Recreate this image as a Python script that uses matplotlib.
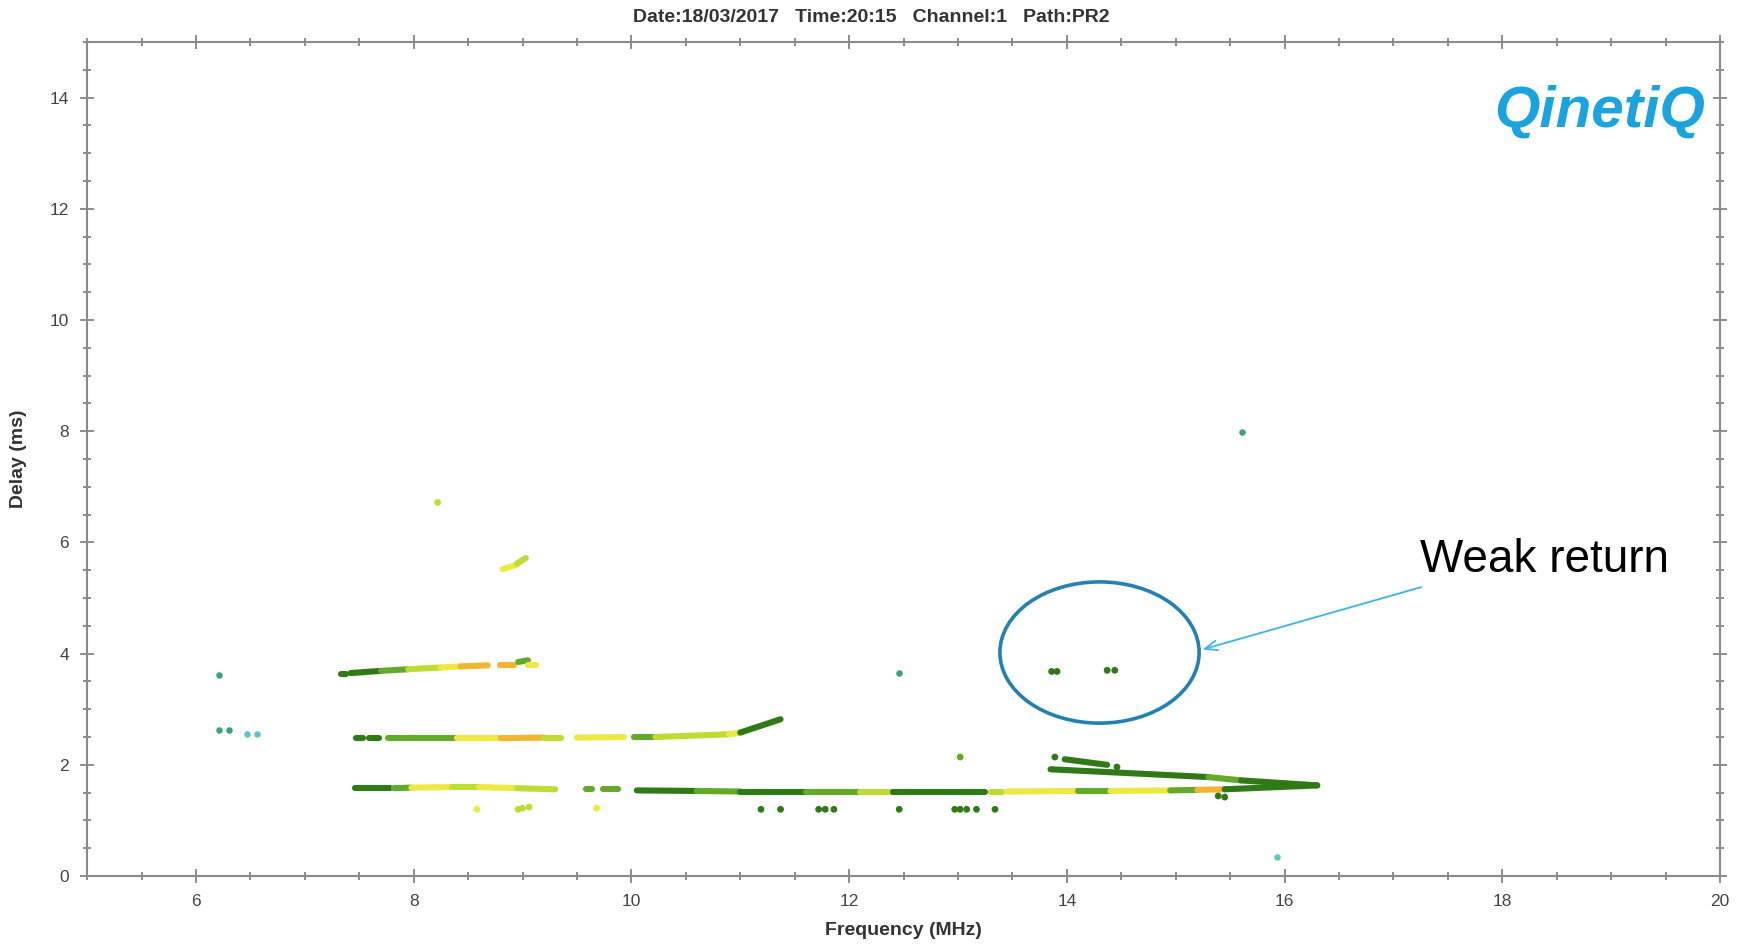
import numpy as np
import matplotlib
matplotlib.use("Agg")
import matplotlib.pyplot as plt
from matplotlib.collections import LineCollection
from matplotlib.patches import Ellipse
from matplotlib.ticker import MultipleLocator

plt.rcParams['font.family'] = ['Liberation Sans', 'DejaVu Sans']

# signal level -> colour (0 weak ... 4 strong)
LEVEL_COLORS = ['#2F7A16', '#63AA2A', '#BEDC34', '#EEE845', '#F1B532']

# ionogram traces as runs: (f_start, f_end, delay_start, delay_end, level)
trace_f2 = [
    (7.33, 7.38, 3.64, 3.64, 0),
    (7.42, 7.70, 3.65, 3.69, 0),
    (7.70, 7.95, 3.69, 3.72, 1),
    (7.95, 8.25, 3.72, 3.75, 2),
    (8.25, 8.43, 3.75, 3.77, 3),
    (8.43, 8.68, 3.77, 3.79, 4),
    (8.79, 8.92, 3.80, 3.80, 4),
    (8.96, 9.05, 3.85, 3.88, 1),
    (9.05, 9.12, 3.80, 3.80, 3),
]
trace_f1 = [
    (7.47, 7.53, 2.48, 2.48, 0),
    (7.59, 7.68, 2.48, 2.48, 0),
    (7.76, 8.00, 2.48, 2.48, 1),
    (8.00, 8.40, 2.48, 2.48, 1),
    (8.40, 8.80, 2.48, 2.48, 3),
    (8.80, 9.20, 2.48, 2.49, 4),
    (9.20, 9.35, 2.49, 2.49, 2),
    (9.50, 9.93, 2.49, 2.50, 3),
    (10.02, 10.22, 2.50, 2.50, 1),
    (10.22, 10.90, 2.50, 2.55, 2),
    (10.90, 11.00, 2.55, 2.58, 3),
    (11.00, 11.37, 2.58, 2.82, 0),
]
trace_e = [
    (7.46, 7.78, 1.58, 1.58, 0),
    (7.82, 7.98, 1.58, 1.59, 1),
    (7.98, 8.35, 1.59, 1.60, 3),
    (8.35, 8.60, 1.60, 1.60, 2),
    (8.60, 8.95, 1.60, 1.58, 3),
    (8.95, 9.10, 1.58, 1.57, 2),
    (9.12, 9.30, 1.57, 1.56, 2),
    (9.58, 9.64, 1.56, 1.56, 1),
    (9.74, 9.88, 1.56, 1.56, 1),
    (10.05, 10.60, 1.54, 1.53, 0),
    (10.60, 11.00, 1.53, 1.52, 1),
    (11.00, 11.60, 1.52, 1.52, 0),
    (11.60, 12.10, 1.52, 1.52, 1),
    (12.10, 12.40, 1.52, 1.52, 2),
    (12.40, 13.25, 1.52, 1.52, 0),
    (13.30, 13.40, 1.52, 1.52, 2),
    (13.45, 14.10, 1.52, 1.53, 3),
    (14.10, 14.40, 1.53, 1.53, 1),
    (14.40, 14.95, 1.53, 1.54, 3),
    (14.95, 15.20, 1.54, 1.55, 1),
    (15.20, 15.45, 1.55, 1.56, 4),
    (15.45, 16.30, 1.56, 1.63, 0),
]
trace_es_upper = [
    (13.85, 15.30, 1.92, 1.78, 0),
    (15.30, 15.60, 1.78, 1.72, 1),
    (15.60, 16.30, 1.72, 1.63, 0),
    (13.98, 14.37, 2.10, 2.00, 0),
]
trace_high = [
    (8.82, 8.95, 5.52, 5.60, 3),
    (8.95, 9.03, 5.62, 5.72, 2),
]

# isolated returns: frequency, delay, level
spot_f = [13.89, 14.46, 13.02, 8.58, 8.96, 9.00, 9.06, 9.68, 11.19, 11.37, 11.72, 11.78,
          11.86, 12.46, 12.97, 13.02, 13.08, 13.17, 13.34, 15.39, 15.45, 8.22,
          13.86, 13.91, 14.37, 14.44]
spot_d = [2.14, 1.96, 2.14, 1.20, 1.20, 1.22, 1.24, 1.22, 1.20, 1.20, 1.20, 1.20,
          1.20, 1.20, 1.20, 1.20, 1.20, 1.20, 1.20, 1.44, 1.42, 6.72,
          3.68, 3.68, 3.70, 3.70]
spot_lvl = [0, 0, 1, 3, 2, 2, 2, 3, 0, 0, 0, 0,
            0, 0, 0, 0, 0, 0, 0, 0, 0, 2,
            0, 0, 0, 0]

# noise / out-of-mode points
teal_f = [6.21, 6.21, 6.30, 12.46, 15.61]
teal_d = [3.62, 2.62, 2.62, 3.66, 7.98]
cyan_f = [6.47, 6.56, 15.93]
cyan_d = [2.56, 2.56, 0.34]

x_ticks = [6, 8, 10, 12, 14, 16, 18, 20]
y_ticks = [0, 2, 4, 6, 8, 10, 12, 14]


def draw_runs(ax, runs, lw=4.4):
    segs = [[(f0, d0), (f1, d1)] for f0, f1, d0, d1, _ in runs]
    cols = [LEVEL_COLORS[r[4]] for r in runs]
    ax.add_collection(LineCollection(segs, colors=cols, linewidths=lw,
                                     capstyle='round', zorder=3))


fig = plt.figure(figsize=(17.45, 9.49), dpi=100)
ax = fig.add_axes([0.0499, 0.0769, 0.9358, 0.8788])

for runs in (trace_f2, trace_f1, trace_e, trace_es_upper, trace_high):
    draw_runs(ax, runs)

ax.scatter(spot_f, spot_d, s=24, marker='o', lw=0,
           c=[LEVEL_COLORS[v] for v in spot_lvl], zorder=4)
ax.scatter(teal_f, teal_d, s=22, marker='o', lw=0, c='#3E9E88', zorder=4)
ax.scatter(cyan_f, cyan_d, s=22, marker='o', lw=0, c='#5CC6C6', zorder=4)

# annotation
ax.add_patch(Ellipse((14.30, 4.02), 1.83, 2.54, fill=False, ec='#2280B3', lw=2.6, zorder=5))
ax.annotate('', xy=(15.22, 4.06), xytext=(17.28, 5.21),
            arrowprops=dict(arrowstyle='->,head_length=0.9,head_width=0.35',
                            color='#3BB4E6', lw=1.3))
ax.text(18.39, 5.68, 'Weak return', fontsize=33, ha='center', va='center', color='black')
ax.text(0.9265, 0.917, 'QinetiQ', transform=ax.transAxes, fontsize=42,
        fontweight='bold', fontstyle='italic', color='#1AA3DC', ha='center', va='center')

ax.set_xlim(5, 20)
ax.set_ylim(0, 15)
ax.set_xticks(x_ticks)
ax.set_yticks(y_ticks)
ax.xaxis.set_minor_locator(MultipleLocator(0.5))
ax.yaxis.set_minor_locator(MultipleLocator(0.5))
ax.tick_params(which='both', direction='inout', top=True, right=True,
               color='#7A7A7A', width=1.2, labelsize=12.5, labelcolor='#444444')
ax.tick_params(which='major', length=10, pad=8)
ax.tick_params(which='minor', length=6)
for sp in ax.spines.values():
    sp.set_color('#8A8A8A')
    sp.set_linewidth(1.5)

ax.set_xlabel('Frequency (MHz)', fontsize=14, fontweight='bold', color='#333333', labelpad=9)
ax.set_ylabel('Delay (ms)', fontsize=14, fontweight='bold', color='#333333', labelpad=16)
fig.text(0.499, 0.982, 'Date:18/03/2017   Time:20:15   Channel:1   Path:PR2',
         fontsize=14, fontweight='bold', color='#333333', ha='center', va='center')

fig.savefig('out.png', dpi=100)
